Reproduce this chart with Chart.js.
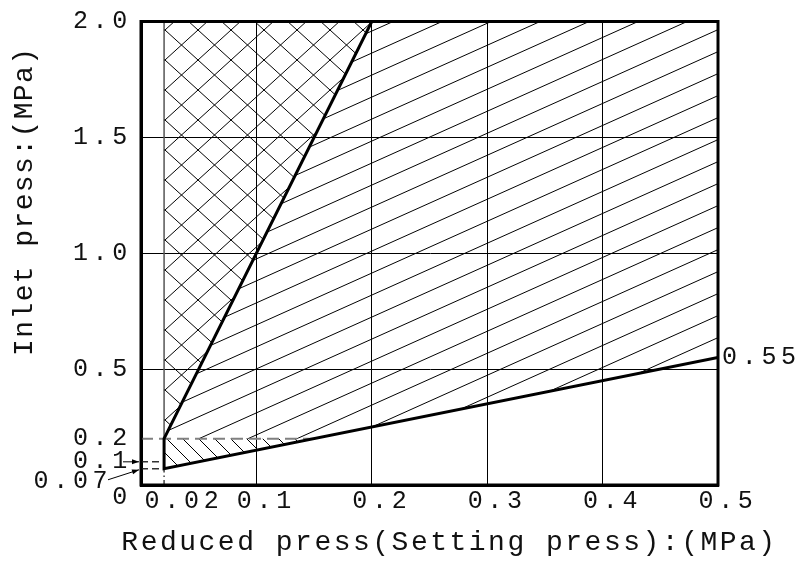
<!DOCTYPE html>
<html>
<head>
<meta charset="utf-8">
<script src="https://cdn.jsdelivr.net/npm/chart.js@4.4.1/dist/chart.umd.min.js"></script>
<style>
  html, body { margin: 0; padding: 0; background: #fff; }
  #wrap { width: 798px; height: 565px; }
</style>
</head>
<body>
<div id="wrap"><canvas id="myChart" width="798" height="565"></canvas></div>
<script>
// tick values (MPa)
const xTicks = [0.02, 0.1, 0.2, 0.3, 0.4, 0.5];
const yTicks = [0, 0.07, 0.1, 0.2, 0.5, 1.0, 1.5, 2.0];
const yGridSolid = [0.5, 1.0, 1.5];
const rightTicks = [0.55];

// thick boundary of the setting range
const edgeX = [0.2, 0.02, 0.02, 0.5];
const edgeY = [2.0, 0.2, 0.07, 0.55];

// cross-hatched zone
const crossX = [0.02, 0.02, 0.2];
const crossY = [0.2, 2.0, 2.0];

// single hatch zone
const slashX = [0.02, 0.2, 0.5, 0.5, 0.15];
const slashY = [0.2, 2.0, 2.0, 0.55, 0.2];

// small zone below 0.2
const backX = [0.02, 0.02, 0.15];
const backY = [0.07, 0.2, 0.2];

// helper lines
const dash02X = [0, 0.15];
const dash02Y = [0.2, 0.2];
const dash01X = [0, 0.02];
const dash01Y = [0.1, 0.1];
const dash007X = [0, 0.02];
const dash007Y = [0.07, 0.07];
const vertX = [0.02, 0.02];
const vertY = [0, 0.07];
const leftEdgeX = [0.02, 0.02];
const leftEdgeY = [0.2, 2.0];

const FONT = 'Liberation Mono';

function pts(xs, ys) {
  return xs.map((x, i) => ({ x: x, y: ys[i] }));
}

const canvas = document.getElementById('myChart');
const ctx = canvas.getContext('2d');

function hatch(w, h, draw) {
  const c = document.createElement('canvas');
  c.width = w; c.height = h;
  const g = c.getContext('2d');
  g.strokeStyle = '#000';
  g.lineWidth = 1;
  g.beginPath();
  draw(g, w, h);
  g.stroke();
  return ctx.createPattern(c, 'repeat');
}

const crossPat = hatch(33, 30, (g, w, h) => {
  for (let k = -1; k <= 1; k++) {
    g.moveTo(k * w, 0); g.lineTo((k + 1) * w, h);
    g.moveTo(k * w, h); g.lineTo((k + 1) * w, 0);
  }
});
const slashPat = hatch(49, 22, (g, w, h) => {
  for (let k = -1; k <= 1; k++) {
    g.moveTo(0, h + k * h); g.lineTo(w, k * h);
  }
});
const backPat = hatch(16, 16, (g, w, h) => {
  for (let k = -1; k <= 1; k++) {
    g.moveTo(0, k * h); g.lineTo(w, (k + 1) * h);
  }
});

function area(xs, ys, pat) {
  return { data: pts(xs, ys), fill: 'shape', backgroundColor: pat, borderWidth: 0,
           borderColor: 'rgba(0,0,0,0)', pointRadius: 0, yAxisID: 'y' };
}
function line(xs, ys, color, width, dash) {
  return { data: pts(xs, ys), fill: false, borderColor: color, borderWidth: width,
           borderDash: dash || [], pointRadius: 0, yAxisID: 'y' };
}

function arrow(c, x1, y1, x2, y2) {
  const a = Math.atan2(y2 - y1, x2 - x1);
  c.beginPath(); c.moveTo(x1, y1); c.lineTo(x2, y2); c.stroke();
  c.beginPath();
  c.moveTo(x2, y2);
  c.lineTo(x2 - 7 * Math.cos(a) + 2.5 * Math.sin(a), y2 - 7 * Math.sin(a) - 2.5 * Math.cos(a));
  c.lineTo(x2 - 7 * Math.cos(a) - 2.5 * Math.sin(a), y2 - 7 * Math.sin(a) + 2.5 * Math.cos(a));
  c.closePath(); c.fill();
}

// wide CAD style lettering, plus frame, arrows and axis titles
const decor = {
  id: 'decor',
  beforeLayout(chart) { chart.ctx.letterSpacing = '4.7px'; },
  beforeDraw(chart) { chart.ctx.letterSpacing = '4.7px'; },
  afterDraw(chart) {
    const c = chart.ctx;
    const a = chart.chartArea;
    const ys = chart.scales.y;
    c.save();
    c.strokeStyle = '#000';
    c.lineWidth = 3;
    c.strokeRect(a.left, a.top, a.right - a.left, a.bottom - a.top);

    c.lineWidth = 1;
    c.fillStyle = '#000';
    const y01 = ys.getPixelForValue(0.1);
    const y007 = ys.getPixelForValue(0.07);
    arrow(c, a.left - 18, y01, a.left - 2, y01);
    arrow(c, a.left - 33, y007 + 11, a.left - 2, y007 + 1);

    c.fillStyle = '#111';
    c.font = '28px "' + FONT + '"';
    c.textAlign = 'center';
    c.textBaseline = 'middle';
    c.letterSpacing = '2.5px';
    c.fillText('Reduced press(Setting press):(MPa)', (a.left + a.right) / 2 + 20, chart.height - 22);
    c.letterSpacing = '1.4px';
    c.translate(25, (a.top + a.bottom) / 2 - 52);
    c.rotate(-Math.PI / 2);
    c.fillText('Inlet press:(MPa)', 0, 0);
    c.restore();
  }
};

const tickFont = { family: FONT, size: 25, lineHeight: 1 };

new Chart(ctx, {
  type: 'line',
  data: {
    datasets: [
      line(edgeX, edgeY, '#000', 3),
      line(leftEdgeX, leftEdgeY, '#555', 1.5),
      line(dash02X, dash02Y, '#808080', 2, [12, 6]),
      line(dash01X, dash01Y, '#333', 1.5, [7, 4]),
      line(dash007X, dash007Y, '#333', 1.5, [7, 4]),
      line(vertX, vertY, '#444', 1.5, [5, 3, 1.5, 3]),
      area(backX, backY, backPat),
      area(crossX, crossY, crossPat),
      area(slashX, slashY, slashPat)
    ]
  },
  options: {
    responsive: false,
    animation: false,
    layout: { padding: { top: 15, left: 0, right: 0, bottom: 0 } },
    plugins: { legend: { display: false }, tooltip: { enabled: false } },
    elements: { point: { radius: 0 }, line: { tension: 0 } },
    scales: {
      x: {
        type: 'linear', min: 0, max: 0.5,
        afterBuildTicks: s => { s.ticks = xTicks.map(v => ({ value: v })); },
        afterFit: s => { s.height = 80; },
        grid: { drawTicks: false, lineWidth: 1,
                color: c => (c.tick && c.tick.value > 0.05 && c.tick.value < 0.45) ? '#000' : 'rgba(0,0,0,0)' },
        border: { width: 3, color: '#000' },
        ticks: { autoSkip: false, maxRotation: 0, padding: 4, labelOffset: 10, color: '#111', font: tickFont,
                 callback: v => v === 0.02 ? ' 0.02' : v.toFixed(1) }
      },
      y: {
        type: 'linear', min: 0, max: 2,
        afterBuildTicks: s => { s.ticks = yTicks.map(v => ({ value: v })); },
        afterFit: s => { s.width = 141; },
        grid: { drawTicks: false, lineWidth: 1,
                color: c => (c.tick && yGridSolid.includes(c.tick.value)) ? '#000' : 'rgba(0,0,0,0)' },
        border: { width: 3, color: '#000' },
        ticks: { autoSkip: false, padding: 9, color: '#111', font: tickFont,
                 callback: v => {
                   if (v === 0) return ['', '0'];
                   if (v === 0.07) return ['', '0.07 '];
                   return v.toFixed(1);
                 } }
      },
      y2: {
        type: 'linear', position: 'right', min: 0, max: 2,
        afterBuildTicks: s => { s.ticks = rightTicks.map(v => ({ value: v })); },
        afterFit: s => { s.width = 80; },
        grid: { display: false, drawTicks: false },
        border: { display: false },
        ticks: { autoSkip: false, padding: 4, color: '#111', font: tickFont,
                 callback: v => v.toFixed(2) }
      }
    }
  },
  plugins: [decor]
});
</script>
</body>
</html>
